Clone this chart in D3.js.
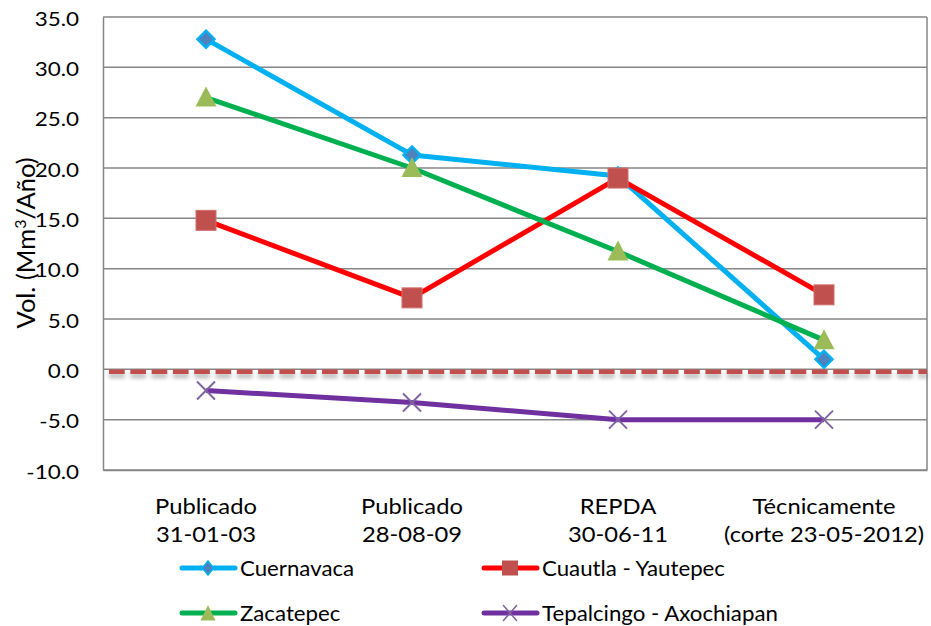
<!DOCTYPE html>
<html><head><meta charset="utf-8">
<script src="https://cdn.jsdelivr.net/npm/d3@7"></script>
<style>body{margin:0;background:#fff}svg{display:block}text{font-family:Lato,"Open Sans",sans-serif;fill:#000}</style>
</head><body>
<svg id="c" width="931" height="626"></svg>
<script>
const categories = [["Publicado","31-01-03"],["Publicado","28-08-09"],["REPDA","30-06-11"],["Técnicamente","(corte 23-05-2012)"]];
const seriesNames = ["Cuernavaca","Cuautla - Yautepec","Zacatepec","Tepalcingo - Axochiapan"];
const cuernavaca = [32.8, 21.3, 19.2, 1.0];
const cuautla = [14.8, 7.1, 19.0, 7.4];
const zacatepec = [27.0, 20.0, 11.7, 2.9];
const tepalcingo = [-2.1, -3.3, -5.0, -5.0];
const yTicks = [-10,-5,0,5,10,15,20,25,30,35];
const zeroLine = [0];

const svg = d3.select("#c");
const m = {l:103, r:927, t:17, b:470};
const x = d3.scaleBand().domain(d3.range(categories.length)).range([m.l, m.r]);
const y = d3.scaleLinear().domain([-10,35]).range([m.b, m.t]);

const defs = svg.append("defs");
const f = defs.append("filter").attr("id","sh").attr("filterUnits","userSpaceOnUse")
  .attr("x",0).attr("y",340).attr("width",931).attr("height",60);
f.append("feGaussianBlur").attr("in","SourceAlpha").attr("stdDeviation",2).attr("result","b");
f.append("feOffset").attr("in","b").attr("dy",4).attr("result","o");
f.append("feComponentTransfer").attr("in","o").attr("result","o2").append("feFuncA").attr("type","linear").attr("slope",0.3);
const fm = f.append("feMerge"); fm.append("feMergeNode").attr("in","o2"); fm.append("feMergeNode").attr("in","SourceGraphic");

// gridlines
svg.append("g").selectAll("line").data(yTicks).join("line")
  .attr("x1",m.l).attr("x2",m.r).attr("y1",d=>y(d)).attr("y2",d=>y(d))
  .attr("stroke","#868686").attr("stroke-width",1.5);
svg.append("line").attr("x1",m.r).attr("x2",m.r).attr("y1",m.t).attr("y2",m.b).attr("stroke","#868686").attr("stroke-width",1.5);

// y axis (line via d3 axis, labels drawn from the scale)
const ya = svg.append("g").attr("transform",`translate(${m.l},0)`)
  .call(d3.axisLeft(y).tickValues(yTicks).tickSize(0).tickFormat(""));
ya.select(".domain").attr("stroke","#868686").attr("stroke-width",1.5);
const fmt = d3.formatLocale({decimal:".",thousands:",",grouping:[3],currency:["",""],minus:"-"}).format(".1f");
svg.append("g").selectAll("text").data(yTicks).join("text")
  .attr("transform",d=>`translate(79,${y(d)+8.5}) scale(1.2,1)`)
  .attr("text-anchor","end").style("font-size","18.7px").text(d=>fmt(d));

// x axis
const xa = svg.append("g").attr("transform",`translate(0,${m.b})`)
  .call(d3.axisBottom(x).tickSize(0).tickFormat(""));
xa.select(".domain").attr("stroke","#868686").attr("stroke-width",1.5);
const cx = i => x(i)+x.bandwidth()/2;
const xg = svg.append("g").selectAll("g").data(categories).join("g")
  .attr("transform",(d,i)=>`translate(${cx(i)},0) scale(1.17,1)`);
xg.append("text").attr("x",0).attr("y",514).attr("text-anchor","middle").style("font-size","20.3px").text(d=>d[0]);
xg.append("text").attr("x",0).attr("y",542).attr("text-anchor","middle").style("font-size","20.3px").text(d=>d[1]);

// y title
svg.append("text").attr("transform","translate(35,243) rotate(-90)").attr("text-anchor","middle").style("font-size","25.5px")
  .html('Vol. (Mm<tspan dy="-9" font-size="16">3</tspan><tspan dy="9">/Año)</tspan>');

// zero dashed line with shadow
svg.append("g").selectAll("line").data(zeroLine).join("line")
  .attr("x1",109).attr("x2",m.r).attr("y1",d=>y(d)+2.3).attr("y2",d=>y(d)+2.3)
  .attr("stroke","#C0504D").attr("stroke-width",4.5).attr("stroke-dasharray","15.7,5.6").attr("filter","url(#sh)");

const series = [
  {name:seriesNames[0], vals:cuernavaca, line:"#00B0F0", mk:"diamond", fill:"#4F81BD"},
  {name:seriesNames[1], vals:cuautla, line:"#FF0000", mk:"square", fill:"#C0504D"},
  {name:seriesNames[2], vals:zacatepec, line:"#00B050", mk:"triangle", fill:"#9BBB59"},
  {name:seriesNames[3], vals:tepalcingo, line:"#7030A0", mk:"x", fill:"#8064A2"}
];
const lineGen = d3.line().x((d,i)=>cx(i)).y(d=>y(d));

function marker(g, s, px, py){
  if(s.mk==="diamond"){
    g.append("path").attr("d",`M${px},${py-8.5}L${px+8.5},${py}L${px},${py+8.5}L${px-8.5},${py}Z`)
     .attr("fill",s.fill).attr("stroke",s.line).attr("stroke-width",2.5).attr("stroke-linejoin","miter");
  } else if(s.mk==="square"){
    g.append("rect").attr("x",px-10).attr("y",py-10).attr("width",20).attr("height",20).attr("fill",s.fill).attr("stroke","#CF6F6C").attr("stroke-width",1);
  } else if(s.mk==="triangle"){
    g.append("path").attr("d",`M${px},${py-11}L${px+10.5},${py+9}L${px-10.5},${py+9}Z`).attr("fill",s.fill);
  } else {
    g.append("path").attr("d",`M${px-9},${py-9}L${px+9},${py+9}M${px-9},${py+9}L${px+9},${py-9}`).attr("stroke",s.fill).attr("stroke-width",2);
  }
}
series.forEach(s=>{
  const g = svg.append("g");
  g.append("path").datum(s.vals).attr("d",lineGen).attr("fill","none").attr("stroke",s.line).attr("stroke-width",5).attr("stroke-linejoin","round");
  s.vals.forEach((v,i)=>marker(g,s,cx(i),y(v)));
});

// legend
const legPos = [[180,568],[482,568],[180,613],[482,613]];
series.forEach((s,k)=>{
  const [lx,ly] = legPos[k];
  const mx = lx+28;
  const g = svg.append("g");
  g.append("line").attr("x1",lx+2).attr("x2",lx+55).attr("y1",ly).attr("y2",ly).attr("stroke",s.line).attr("stroke-width",5).attr("stroke-linecap","round");
  if(s.mk==="diamond"){
    g.append("path").attr("d",`M${mx},${ly-7}L${mx+5.5},${ly}L${mx},${ly+7}L${mx-5.5},${ly}Z`).attr("fill",s.fill).attr("stroke",s.line).attr("stroke-width",1.5);
  } else if(s.mk==="square"){
    g.append("rect").attr("x",mx-8).attr("y",ly-7.5).attr("width",16).attr("height",15).attr("fill",s.fill);
  } else if(s.mk==="triangle"){
    g.append("path").attr("d",`M${mx},${ly-8}L${mx+7.5},${ly+7.5}L${mx-7.5},${ly+7.5}Z`).attr("fill",s.fill);
  } else {
    g.append("path").attr("d",`M${mx-7},${ly-8}L${mx+7},${ly+8}M${mx-7},${ly+8}L${mx+7},${ly-8}`).attr("stroke",s.fill).attr("stroke-width",1.5);
  }
  g.append("text").attr("transform",`translate(${lx+60},${ly+8}) scale(1.07,1)`).style("font-size","20.8px").text(s.name);
});
</script>
</body></html>
